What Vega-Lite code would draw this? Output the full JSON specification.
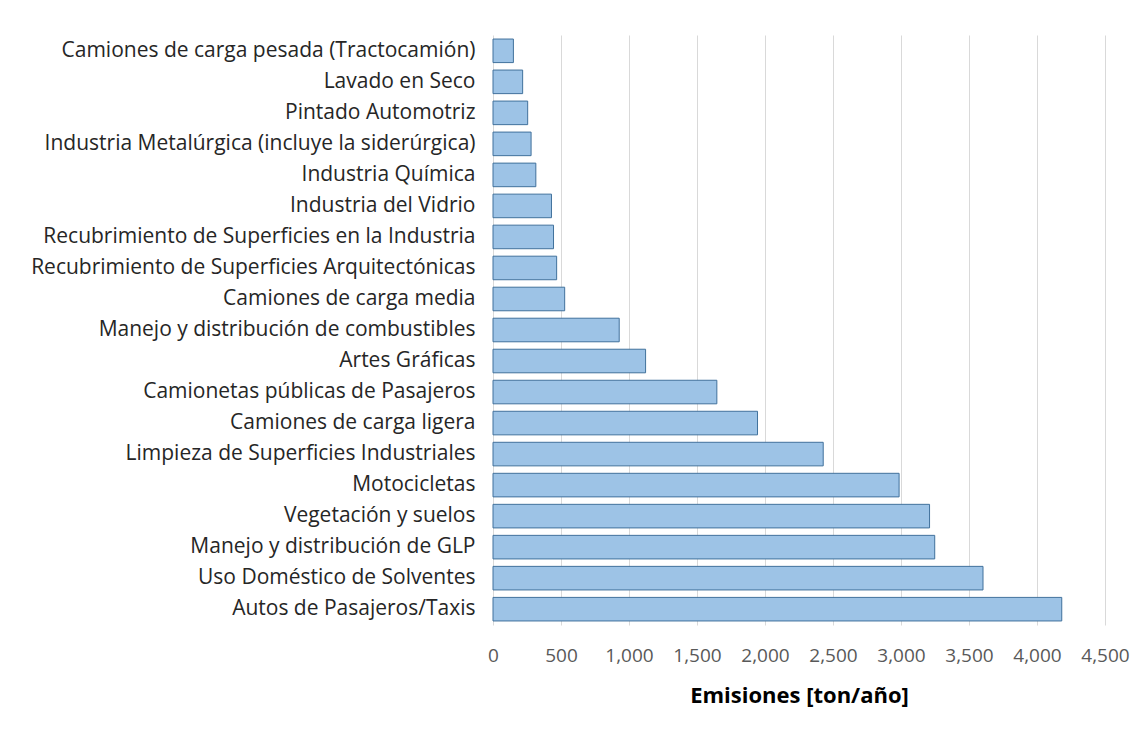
{
  "$schema": "https://vega.github.io/schema/vega-lite/v6.json",
  "autosize": "none",
  "width": 612,
  "height": 590,
  "padding": {"left": 493, "top": 35, "right": 41, "bottom": 112},
  "background": "white",
  "data": {"values": [
    {"categoria": "Camiones de carga pesada (Tractocamión)", "emisiones": 150},
    {"categoria": "Lavado en Seco", "emisiones": 218},
    {"categoria": "Pintado Automotriz", "emisiones": 255},
    {"categoria": "Industria Metalúrgica (incluye la siderúrgica)", "emisiones": 280},
    {"categoria": "Industria Química", "emisiones": 315},
    {"categoria": "Industria del Vidrio", "emisiones": 430},
    {"categoria": "Recubrimiento de Superficies en la Industria", "emisiones": 445},
    {"categoria": "Recubrimiento de Superficies Arquitectónicas", "emisiones": 468},
    {"categoria": "Camiones de carga media", "emisiones": 527},
    {"categoria": "Manejo y distribución de combustibles", "emisiones": 928},
    {"categoria": "Artes Gráficas ", "emisiones": 1122},
    {"categoria": "Camionetas públicas de Pasajeros", "emisiones": 1646},
    {"categoria": "Camiones de carga ligera", "emisiones": 1945},
    {"categoria": "Limpieza de Superficies Industriales", "emisiones": 2428},
    {"categoria": "Motocicletas", "emisiones": 2986},
    {"categoria": "Vegetación y suelos", "emisiones": 3210},
    {"categoria": "Manejo y distribución de GLP", "emisiones": 3248},
    {"categoria": "Uso Doméstico de Solventes ", "emisiones": 3603},
    {"categoria": "Autos de Pasajeros/Taxis", "emisiones": 4182}
  ]},
  "mark": {"type": "bar", "fill": "#9dc3e6", "stroke": "#41719c", "strokeWidth": 1},
  "encoding": {
    "y": {
      "field": "categoria", "type": "nominal", "sort": null,
      "scale": {"paddingInner": 0.24, "paddingOuter": 0.13},
      "axis": {"title": null, "domain": false, "ticks": false, "labelFont": "Open Sans", "labelFontSize": 21, "labelColor": "#262626", "labelPadding": 18, "labelLimit": 600}
    },
    "x": {
      "field": "emisiones", "type": "quantitative",
      "scale": {"domain": [0, 4500], "nice": false},
      "axis": {"values": [0, 500, 1000, 1500, 2000, 2500, 3000, 3500, 4000, 4500], "format": ",d", "labelFlush": false, "labelOverlap": false, "title": "Emisiones [ton/año]", "titleFont": "Open Sans", "titleFontSize": 22, "titleFontWeight": "bold", "titleColor": "#000000", "titlePadding": 20, "labelFont": "Open Sans", "labelFontSize": 19, "labelColor": "#595959", "labelPadding": 21, "domain": false, "ticks": false, "grid": true, "gridColor": "#d9d9d9", "gridWidth": 1}
    }
  },
  "config": {"view": {"stroke": null}}
}
